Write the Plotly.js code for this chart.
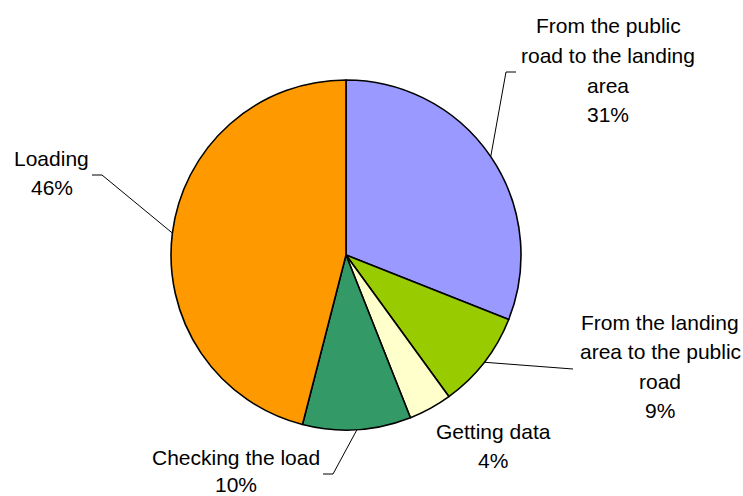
<!DOCTYPE html>
<html>
<head>
<meta charset="utf-8">
<script src="https://cdn.plot.ly/plotly-3.0.1.min.js"></script>
<style>html,body{margin:0;padding:0;background:#fff}#chart{width:743px;height:496px}</style>
</head>
<body>
<div id="chart"></div>
<script>
// ---- data ----
const categories = [
  "From the public road to the landing area",
  "From the landing area to the public road",
  "Getting data",
  "Checking the load",
  "Loading"
];
const values = [31, 9, 4, 10, 46];
const labelLines = [
  ["From the public", "road to the landing", "area"],
  ["From the landing", "area to the public", "road"],
  ["Getting data"],
  ["Checking the load"],
  ["Loading"]
];
const colors = ["#9999FF", "#99CC00", "#FFFFCC", "#339966", "#FF9900"];

// ---- layout (pixel positions) ----
const W = 743, H = 496;
const CX = 346, CY = 255, R = 175;
// label centre of first line, line gap, and leader path points after the slice edge
const labelPos = [
  {x: 608, y: 26, gap: 29.5, path: [[506, 72], [516, 72]]},
  {x: 660, y: 322, gap: 29.5, path: [[573, 369]]},
  {x: 493, y: 431, gap: 29.5, path: null},
  {x: 236, y: 457, gap: 27, path: [[333, 474], [323, 474]]},
  {x: 52, y: 158, gap: 29.5, path: [[102, 175], [92, 175]]}
];

const px = x => x / W;
const py = y => 1 - y / H;

const total = values.reduce((a, b) => a + b, 0);
const annotations = [];
const shapes = [];
let cum = 0;
values.forEach((v, i) => {
  const mid = (cum + v / 2) / total * 2 * Math.PI;
  cum += v;
  const pct = Math.round(v / total * 100) + "%";
  const lines = labelLines[i].concat([pct]);
  const lp = labelPos[i];
  lines.forEach((t, k) => {
    annotations.push({
      text: t, showarrow: false, xref: "paper", yref: "paper",
      x: px(lp.x), y: py(lp.y + k * lp.gap),
      xanchor: "center", yanchor: "middle",
      font: {family: "Liberation Sans, Arial, sans-serif", size: 21, color: "#000"}
    });
  });
  if (lp.path) {
    const sx = CX + R * Math.sin(mid), sy = CY - R * Math.cos(mid);
    let d = "M" + px(sx) + "," + py(sy);
    lp.path.forEach(p => { d += " L" + px(p[0]) + "," + py(p[1]); });
    shapes.push({type: "path", xref: "paper", yref: "paper", path: d,
      line: {color: "#000", width: 1}});
  }
});

const trace = {
  type: "pie",
  labels: categories,
  values: values,
  sort: false,
  direction: "clockwise",
  rotation: 0,
  textinfo: "none",
  hoverinfo: "label+percent",
  marker: {colors: colors, line: {color: "#000", width: 1.6}},
  domain: {x: [(CX - R) / W, (CX + R) / W], y: [1 - (CY + R) / H, 1 - (CY - R) / H]}
};

const layout = {
  width: W, height: H,
  margin: {l: 0, r: 0, t: 0, b: 0},
  showlegend: false,
  paper_bgcolor: "#fff",
  annotations: annotations,
  shapes: shapes
};

Plotly.newPlot("chart", [trace], layout, {displayModeBar: false, staticPlot: true});
</script>
</body>
</html>
